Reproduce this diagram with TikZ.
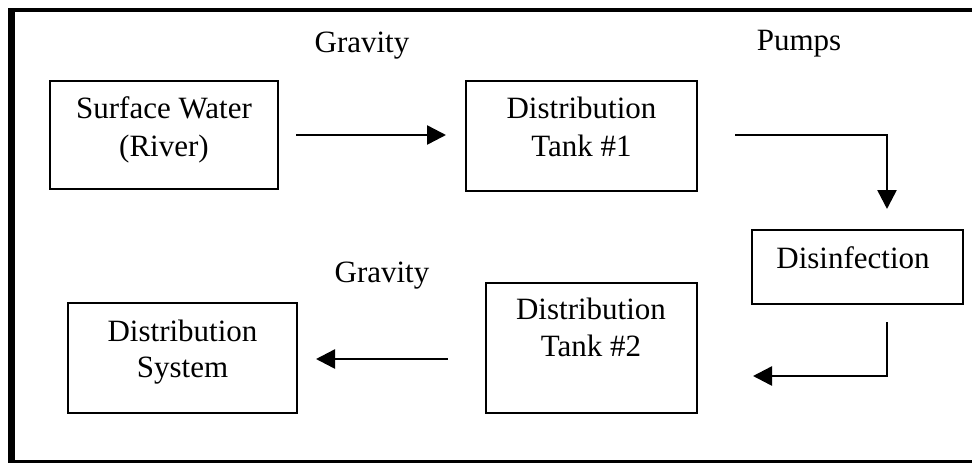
\documentclass[tikz,border=0pt]{standalone}
\usepackage{fontspec}
\setmainfont{Liberation Serif}
\usetikzlibrary{arrows.meta}
\begin{document}
\begin{tikzpicture}[x=1pt,y=-1pt,
  box/.style={draw=black,line width=2pt,rectangle,inner sep=0pt},
  txt/.style={anchor=base,inner sep=0pt,font=\fontsize{31}{37}\selectfont},
  arr/.style={draw=black,line width=2.5pt,-{Triangle[length=19pt,width=19pt]}}]
\useasboundingbox (0,0) rectangle (972,464);
\clip (0,0) rectangle (972,464);
% outer frame
\fill[black] (8,8) rectangle (15,463);
\fill[black] (8,8) rectangle (980,11.5);
\fill[black] (8,459.5) rectangle (980,463);
% boxes
\node[box,minimum width=228pt,minimum height=108pt] (sw) at (164,135) {};
\node[box,minimum width=231pt,minimum height=110pt] (t1) at (581.5,136) {};
\node[box,minimum width=211pt,minimum height=74pt] (dis) at (857.5,267) {};
\node[box,minimum width=211pt,minimum height=130pt] (t2) at (591,348) {};
\node[box,minimum width=229pt,minimum height=110pt] (ds) at (182.5,358) {};
% box texts
\node[txt] (swa) at (164,118) {Surface Water};
\node[txt] (swb) at (164,156) {(River)};
\node[txt] (t1a) at (581.5,118) {Distribution};
\node[txt] (t1b) at (581.5,156) {Tank \#1};
\node[txt] (disa) at (853,268) {Disinfection};
\node[txt] (t2a) at (591,319) {Distribution};
\node[txt] (t2b) at (591,356) {Tank \#2};
\node[txt] (dsa) at (182.5,341) {Distribution};
\node[txt] (dsb) at (182.5,377) {System};
% labels
\node[txt] (g1) at (362,52) {Gravity};
\node[txt] (pu) at (799,50) {Pumps};
\node[txt] (g2) at (382,282) {Gravity};
% connectors
\coordinate (p1) at (887,135);
\coordinate (p2) at (887,322);
\coordinate (p3) at (753,376);
\draw[arr] ([xshift=17pt]sw.east |- 0,135) -- ([xshift=-19pt]t1.west |- 0,135);
\draw[arr] ([xshift=37pt]t1.east |- p1) -- (p1) -- ([yshift=20pt]dis.north -| p1);
\draw[arr] (p2) |- (p3);
\draw[arr] ([xshift=-37pt]t2.west |- 0,359) -- ([xshift=18pt]ds.east |- 0,359);
\end{tikzpicture}
\end{document}
